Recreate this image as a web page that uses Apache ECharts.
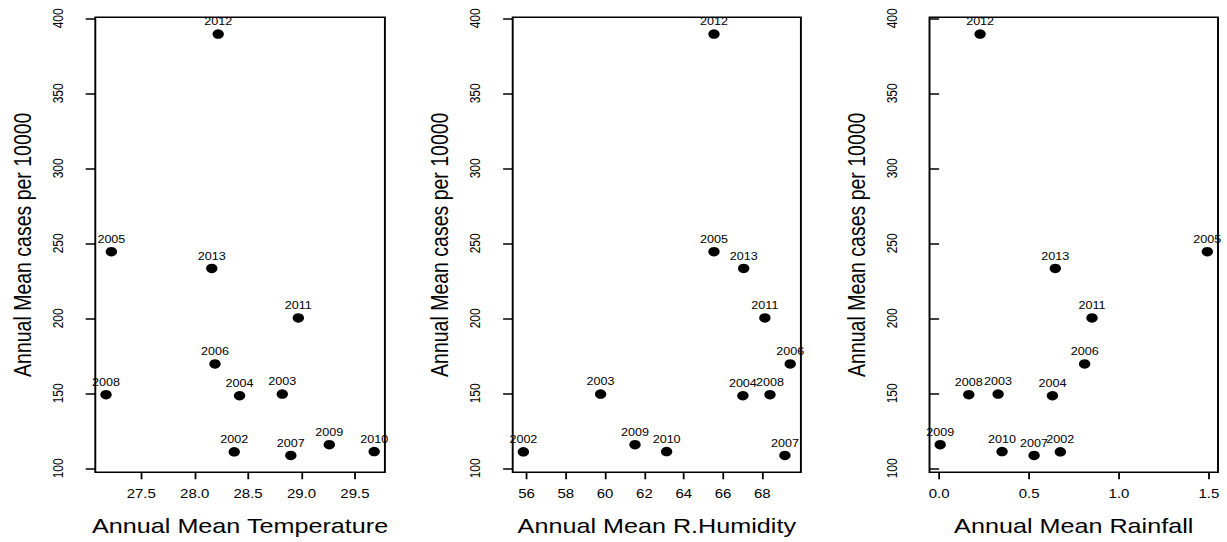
<!DOCTYPE html>
<html>
<head>
<meta charset="utf-8">
<script src="https://cdn.jsdelivr.net/npm/echarts@6/dist/echarts.min.js"></script>
<style>
  html, body { margin: 0; padding: 0; background: #fff; overflow: hidden; }
  #wrap { width: 1227px; height: 542px; overflow: hidden; position: relative; }
  #chart { width: 1023px; height: 542px; transform-origin: 0 0; }
</style>
</head>
<body>
<div id="wrap"><div id="chart"></div></div>
<script>
// ---- data ----
const years = ['2002','2003','2004','2005','2006','2007','2008','2009','2010','2011','2012','2013'];
const cases = [111.0, 149.5, 148.4, 244.4, 169.6, 108.6, 149.1, 115.8, 111.2, 200.3, 389.5, 233.3];
const temperature = [28.37, 28.82, 28.42, 27.22, 28.19, 28.90, 27.17, 29.26, 29.68, 28.97, 28.22, 28.16];
const humidity = [55.84, 59.77, 67.01, 65.54, 69.42, 69.15, 68.39, 61.52, 63.13, 68.13, 65.54, 67.05];
const rainfall = [0.674, 0.328, 0.630, 1.491, 0.809, 0.528, 0.165, 0.006, 0.350, 0.850, 0.228, 0.646];

const yTicks = [100, 150, 200, 250, 300, 350, 400];
const tempTicks = [27.5, 28.0, 28.5, 29.0, 29.5];
const humTicks = [56, 58, 60, 62, 64, 66, 68];
const rainTicks = [0.0, 0.5, 1.0, 1.5];

const yTitle = 'Annual Mean cases per 10000';
const xTitles = ['Annual Mean Temperature', 'Annual Mean R.Humidity', 'Annual Mean Rainfall'];

// ---- layout ----
const W = 1023;
const S = 1227 / W;            // horizontal stretch of the original image
document.getElementById('chart').style.transform = 'scaleX(' + S + ')';

const FONT = 'Liberation Sans, Arial, Helvetica, sans-serif';
const panels = [
  { x: temperature, ticks: tempTicks, dec: 1, left: 95.3, width: 289.6 },
  { x: humidity,    ticks: humTicks,  dec: 0, left: 512.7, width: 288.2 },
  { x: rainfall,    ticks: rainTicks, dec: 1, left: 929.5, width: 288.5 }
];
const TOP = 17.2, HEIGHT = 455.1;

function ext(arr) {
  const mn = Math.min.apply(null, arr), mx = Math.max.apply(null, arr);
  const r = mx - mn;
  return [mn - 0.04 * r, mx + 0.04 * r];
}
const yr = ext(cases);

const grid = [], xAxis = [], yAxis = [], series = [];
panels.forEach((p, i) => {
  const xr = ext(p.x);
  grid.push({
    left: p.left / S, width: p.width / S, top: TOP, height: HEIGHT,
    show: true, borderColor: '#000', borderWidth: 1.6, backgroundColor: 'transparent',
    containLabel: false
  });
  xAxis.push({
    type: 'value', gridIndex: i, min: xr[0], max: xr[1],
    name: xTitles[i], nameLocation: 'middle', nameGap: 43,
    nameTextStyle: { fontFamily: FONT, fontSize: 21, color: '#000' },
    axisLine: { show: false },
    splitLine: { show: false },
    axisTick: { show: true, length: 7, customValues: p.ticks, lineStyle: { color: '#000', width: 1.5 } },
    axisLabel: {
      customValues: p.ticks, margin: 15, fontFamily: FONT, fontSize: 12.5, color: '#000',
      formatter: v => Number(v).toFixed(p.dec)
    }
  });
  yAxis.push({
    type: 'value', gridIndex: i, min: yr[0], max: yr[1],
    name: yTitle, nameLocation: 'middle', nameGap: 50,
    nameTextStyle: { fontFamily: FONT, fontSize: 19.5, color: '#000' },
    axisLine: { show: false },
    splitLine: { show: false },
    axisTick: { show: true, length: 8, customValues: yTicks, lineStyle: { color: '#000', width: 1.5 } },
    axisLabel: {
      customValues: yTicks, rotate: 90, margin: 25, fontFamily: FONT, fontSize: 12, color: '#000',
      formatter: v => String(Math.round(v))
    }
  });
  series.push({
    type: 'scatter', xAxisIndex: i, yAxisIndex: i,
    symbol: 'circle', symbolSize: 9.5,
    itemStyle: { color: '#000', opacity: 1 },
    clip: false,
    data: p.x.map((v, k) => [v, cases[k]]),
    label: {
      show: true, position: 'top', distance: 2,
      fontFamily: FONT, fontSize: 10.5, color: '#000',
      formatter: q => years[q.dataIndex]
    },
    emphasis: { disabled: true },
    animation: false
  });
});

const chart = echarts.init(document.getElementById('chart'), null, { renderer: 'svg', width: W, height: 542 });
chart.setOption({
  animation: false,
  backgroundColor: '#fff',
  grid, xAxis, yAxis, series
});
</script>
</body>
</html>
